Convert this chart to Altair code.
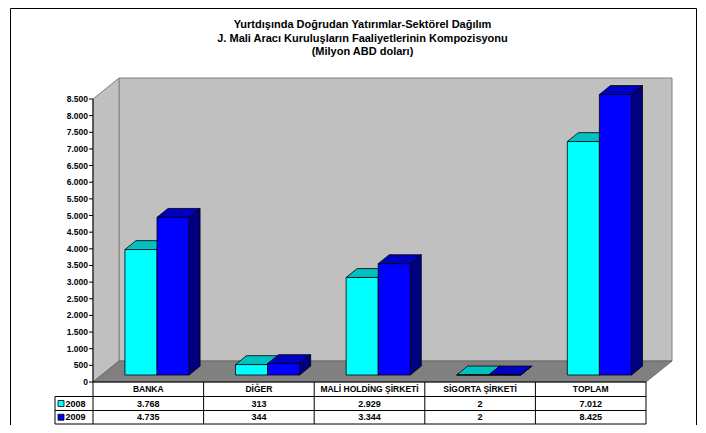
import altair as alt
import pandas as pd

# ---------------- data ----------------
categories = ["BANKA", "DİĞER", "MALİ HOLDİNG ŞİRKETİ", "SİGORTA ŞİRKETİ", "TOPLAM"]
series = ["2008", "2009"]
values_2008 = [3768, 313, 2929, 2, 7012]
values_2009 = [4735, 344, 3344, 2, 8425]
axis_ticks = list(range(0, 8501, 500))
title_lines = [
    "Yurtdışında Doğrudan Yatırımlar-Sektörel Dağılım",
    "J. Mali Aracı Kuruluşların Faaliyetlerinin Kompozisyonu",
    "(Milyon ABD doları)",
]

front_colors = ["#00FFFF", "#0000FF"]
top_colors = ["#00C0C0", "#0000C0"]
side_colors = ["#008080", "#000080"]

FONT = "Liberation Sans"


def fmt(v):
    return f"{v:,}".replace(",", ".")


# ---------------- geometry (styling, pixels) ----------------
N = len(categories)
COL_PX = 110.6
AX_MAX = 8500
AX_PX = 283.0
UX = 1.0 / COL_PX          # x data units per pixel
UY = AX_MAX / AX_PX        # y data units per pixel
DEPTH_X, DEPTH_Y = 26.0, 21.0
SHIFT_X, SHIFT_Y = 8.7, 7.0
BAR_DX, BAR_DY = 11.0, 8.9
BAR_GAP, BAR_W = 0.21, 0.29
LEFT_PX = 38.0
TOP_PX = 304.0
BOTTOM_PX = 43.0
ROW_EDGES_PX = [0.0, 14.5, 28.5, 42.0]
PLOT_W = round(LEFT_PX + N * COL_PX + DEPTH_X)
PLOT_H = round(TOP_PX + BOTTOM_PX)

xscale = alt.Scale(domain=[-LEFT_PX * UX, N + DEPTH_X * UX], nice=False, zero=False)
yscale = alt.Scale(domain=[-BOTTOM_PX * UY, TOP_PX * UY], nice=False, zero=False)


def X(f, **kw):
    return alt.X(f, type="quantitative", scale=xscale, axis=None, **kw)


def Y(f, **kw):
    return alt.Y(f, type="quantitative", scale=yscale, axis=None, **kw)


# ---------------- walls ----------------
back_df = pd.DataFrame({"x1": [DEPTH_X * UX], "x2": [N + DEPTH_X * UX],
                        "y1": [DEPTH_Y * UY], "y2": [AX_MAX + DEPTH_Y * UY]})
back = alt.Chart(back_df).mark_rect(fill="#C0C0C0", stroke="#808080", strokeWidth=1).encode(
    x=X("x1"), x2="x2", y=Y("y1"), y2="y2")

lw_df = pd.DataFrame({"x": [0.0, DEPTH_X * UX], "lo": [0.0, DEPTH_Y * UY],
                      "hi": [AX_MAX, AX_MAX + DEPTH_Y * UY]})
left_wall = alt.Chart(lw_df).mark_area(orient="vertical", fill="#C0C0C0", stroke="#808080",
                                       strokeWidth=1).encode(
    x=X("x"), y=Y("lo", stack=None), y2="hi")

fl_df = pd.DataFrame({"y": [0.0, DEPTH_Y * UY], "lo": [0.0, DEPTH_X * UX],
                      "hi": [float(N), N + DEPTH_X * UX]})
floor = alt.Chart(fl_df).mark_area(orient="horizontal", fill="#808080", stroke="#606060",
                                   strokeWidth=0.8).encode(
    y=Y("y"), x=X("lo", stack=None), x2="hi")

# ---------------- value axis (front-left edge) ----------------
axis_line = alt.Chart(pd.DataFrame({"x": [0.0], "y": [0.0], "y2": [float(AX_MAX)]})).mark_rule(
    color="#000000", strokeWidth=1).encode(x=X("x"), y=Y("y"), y2="y2")

tick_df = pd.DataFrame({"v": axis_ticks, "label": [fmt(v) for v in axis_ticks],
                        "x": [-4 * UX] * len(axis_ticks), "x2": [0.0] * len(axis_ticks),
                        "lx": [-5 * UX] * len(axis_ticks)})
axis_ticks_m = alt.Chart(tick_df).mark_rule(color="#000000", strokeWidth=1).encode(
    x=X("x"), x2="x2", y=Y("v"))
axis_labels = alt.Chart(tick_df).mark_text(font=FONT, fontSize=8.5, fontWeight="bold", color="#000000",
                                           align="right", baseline="middle").encode(
    x=X("lx"), y=Y("v"), text="label:N")

# ---------------- bars ----------------
all_values = [values_2008, values_2009]
bar_rows, side_rows, top_rows = [], [], []
for s, ser in enumerate(series):
    for i, cat in enumerate(categories):
        v = all_values[s][i]
        key = f"{ser}-{i}"
        x1 = i + BAR_GAP + s * BAR_W + SHIFT_X * UX
        x2 = x1 + BAR_W
        y1 = SHIFT_Y * UY
        y2 = y1 + v
        dxu, dyu = BAR_DX * UX, BAR_DY * UY
        bar_rows.append({"series": ser, "key": key, "x1": x1, "x2": x2, "y1": y1, "y2": y2})
        side_rows += [{"series": ser, "key": key, "x": x2, "lo": y1, "hi": y2},
                      {"series": ser, "key": key, "x": x2 + dxu, "lo": y1 + dyu, "hi": y2 + dyu}]
        top_rows += [{"series": ser, "key": key, "y": y2, "lo": x1, "hi": x2},
                     {"series": ser, "key": key, "y": y2 + dyu, "lo": x1 + dxu, "hi": x2 + dxu}]
bars_df = pd.DataFrame(bar_rows)
side_df = pd.DataFrame(side_rows)
top_df = pd.DataFrame(top_rows)

bar_layers = []
for s, ser in enumerate(series):
    side = alt.Chart(side_df[side_df.series == ser]).mark_area(
        orient="vertical", fill=side_colors[s], stroke="#000000", strokeWidth=0.8).encode(
        x=X("x"), y=Y("lo", stack=None), y2="hi", detail="key:N")
    top = alt.Chart(top_df[top_df.series == ser]).mark_area(
        orient="horizontal", fill=top_colors[s], stroke="#000000", strokeWidth=0.8).encode(
        y=Y("y"), x=X("lo", stack=None), x2="hi", detail="key:N")
    front = alt.Chart(bars_df[bars_df.series == ser]).mark_rect(
        fill=front_colors[s], stroke="#000000", strokeWidth=0.8).encode(
        x=X("x1"), x2="x2", y=Y("y1"), y2="y2")
    bar_layers += [side, top, front]

# ---------------- data table ----------------
row_y = [-(ROW_EDGES_PX[k] + ROW_EDGES_PX[k + 1]) / 2 * UY for k in range(3)]
edge_y = [-e * UY for e in ROW_EDGES_PX]
tl = -LEFT_PX * UX
rules = []
rules.append({"x": 0.0, "x2": float(N), "y": edge_y[0], "y2": edge_y[0]})
for e in edge_y[1:]:
    rules.append({"x": tl, "x2": float(N), "y": e, "y2": e})
for c in range(N + 1):
    rules.append({"x": float(c), "x2": float(c), "y": edge_y[0], "y2": edge_y[3]})
rules.append({"x": tl, "x2": tl, "y": edge_y[1], "y2": edge_y[3]})
table_lines = alt.Chart(pd.DataFrame(rules)).mark_rule(color="#000000", strokeWidth=1).encode(
    x=X("x"), x2="x2", y=Y("y"), y2="y2")

hdr_df = pd.DataFrame({"cat": categories, "x": [i + 0.5 for i in range(N)], "y": [row_y[0]] * N})
header = alt.Chart(hdr_df).mark_text(font=FONT, fontSize=8.5, fontWeight="bold", color="#000000",
                                     baseline="middle", align="center").encode(
    x=X("x"), y=Y("y"), text="cat:N")

cell_rows = []
for s, ser in enumerate(series):
    for i in range(N):
        cell_rows.append({"label": fmt(all_values[s][i]), "x": i + 0.5, "y": row_y[s + 1]})
cells = alt.Chart(pd.DataFrame(cell_rows)).mark_text(
    font=FONT, fontSize=9, fontWeight="bold", color="#000000", baseline="middle", align="center").encode(
    x=X("x"), y=Y("y"), text="label:N")

leg_layers = []
for s, ser in enumerate(series):
    sq = pd.DataFrame({"x1": [-35 * UX], "x2": [-29 * UX],
                       "y1": [row_y[s + 1] - 3 * UY], "y2": [row_y[s + 1] + 3 * UY]})
    leg_layers.append(alt.Chart(sq).mark_rect(fill=front_colors[s], stroke="#000000", strokeWidth=0.8)
                      .encode(x=X("x1"), x2="x2", y=Y("y1"), y2="y2"))
    lab = pd.DataFrame({"t": [ser], "x": [-27.5 * UX], "y": [row_y[s + 1]]})
    leg_layers.append(alt.Chart(lab).mark_text(font=FONT, fontSize=9, fontWeight="bold", color="#000000",
                                               baseline="middle", align="left")
                      .encode(x=X("x"), y=Y("y"), text="t:N"))

# ---------------- title & frame ----------------
one = pd.DataFrame({"a": [0]})
title_layers = []
for k, line in enumerate(title_lines):
    title_layers.append(alt.Chart(one).mark_text(
        text=line, font=FONT, fontSize=11, fontWeight="bold", color="#000000",
        align="center", baseline="middle").encode(
        x=alt.value(PLOT_W / 2 - 1), y=alt.value(-53 + 13.5 * k)))

frame = alt.Chart(one).mark_rect(fillOpacity=0, stroke="#000000", strokeWidth=1).encode(
    x=alt.value(-44.5), x2=alt.value(641.5), y=alt.value(-69.5), y2=alt.value(400))

chart = alt.layer(
    frame, back, left_wall, floor, axis_line, axis_ticks_m, axis_labels, *bar_layers,
    table_lines, header, cells, *leg_layers, *title_layers
).properties(
    width=PLOT_W, height=PLOT_H,
    autosize=alt.AutoSizeParams(type="none"),
    padding={"left": 47, "top": 70, "right": 26, "bottom": 0},
    background="#FFFFFF",
).configure_view(strokeWidth=0)

chart.save("out.html", embed_options={"renderer": "svg", "actions": False})
